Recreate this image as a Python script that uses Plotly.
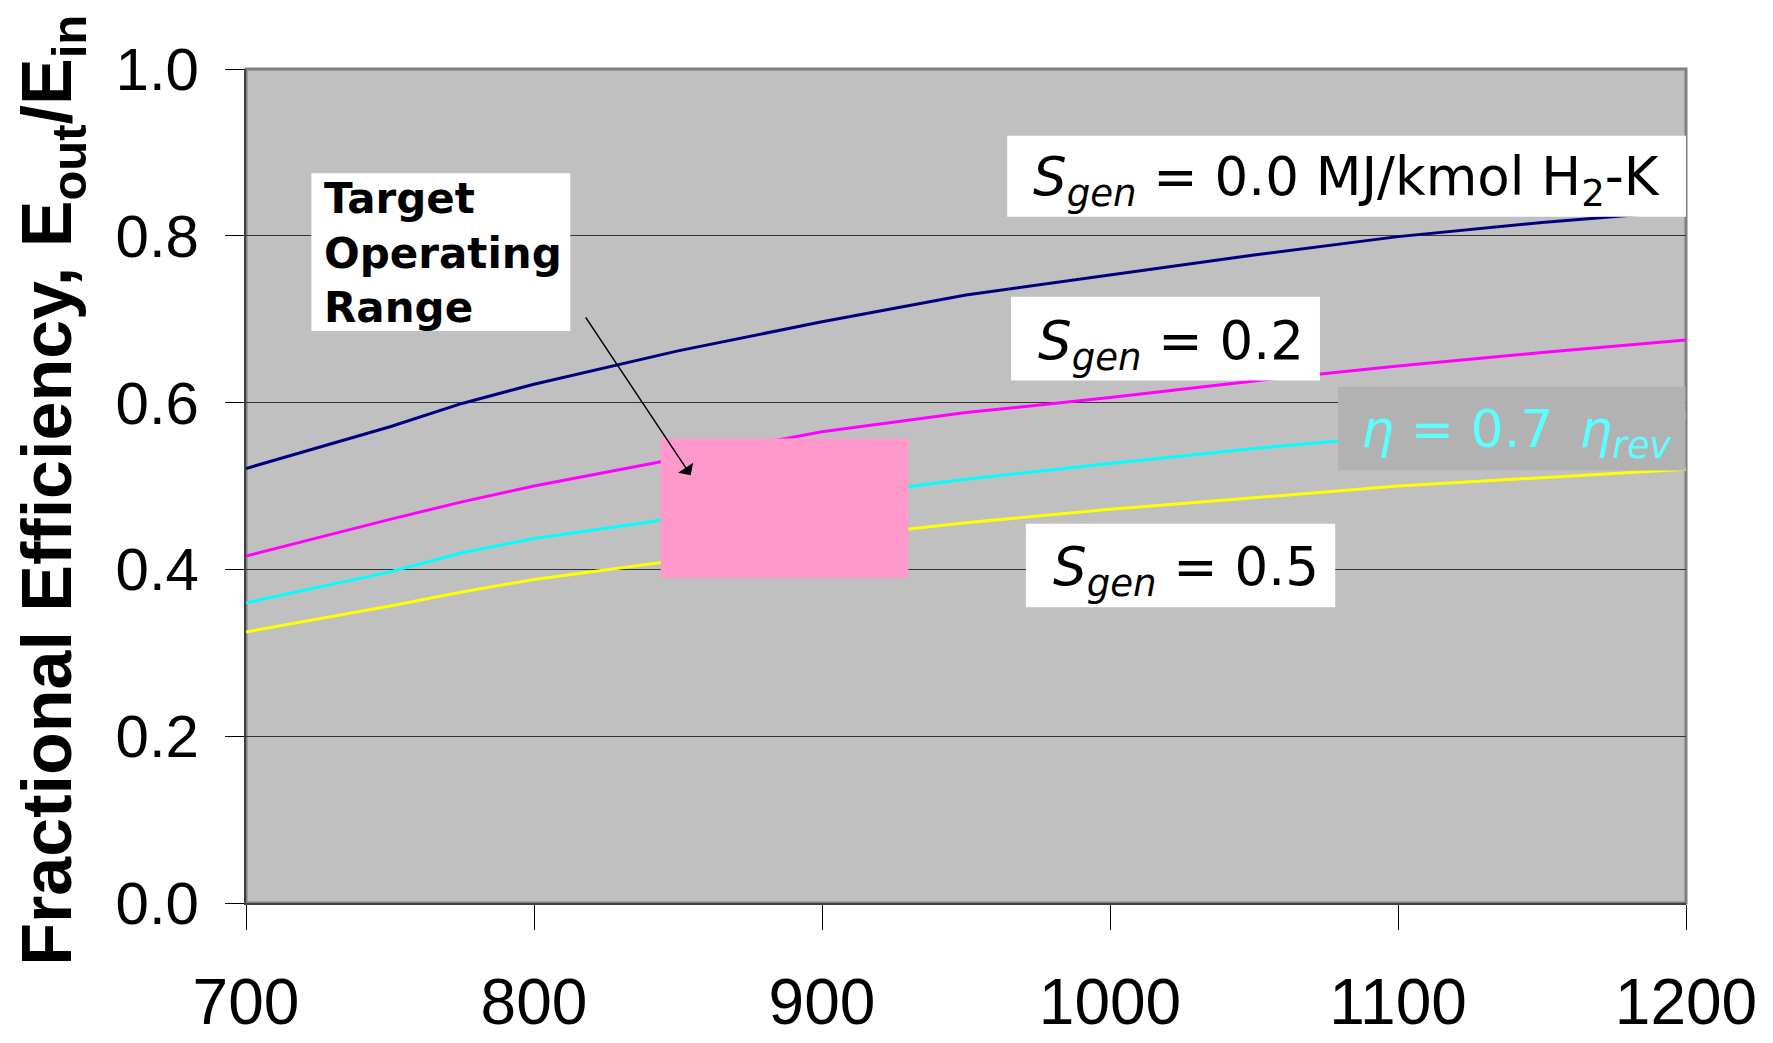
import plotly.graph_objects as go

# Operating temperature (x) and fractional efficiency curves
temperature = [700, 750, 775, 800, 850, 900, 950, 1000, 1050, 1100, 1150, 1200]
eff_sgen_00 = [0.521, 0.571, 0.599, 0.622, 0.662, 0.697, 0.729, 0.753, 0.777, 0.799, 0.816, 0.830]
eff_sgen_02 = [0.416, 0.460, 0.481, 0.500, 0.533, 0.565, 0.588, 0.606, 0.626, 0.644, 0.660, 0.675]
eff_eta_07 = [0.360, 0.397, 0.420, 0.437, 0.462, 0.486, 0.508, 0.527, 0.545, 0.560, 0.573, 0.584]
eff_sgen_05 = [0.325, 0.356, 0.373, 0.388, 0.411, 0.437, 0.456, 0.472, 0.486, 0.500, 0.510, 0.520]

x_ticks = [700, 800, 900, 1000, 1100, 1200]
y_ticks = [0.0, 0.2, 0.4, 0.6, 0.8, 1.0]
y_tick_text = ["0.0", "0.2", "0.4", "0.6", "0.8", "1.0"]

# Target operating range (temperature span, efficiency span)
target_x = [844, 930]
target_y = [0.390, 0.557]

series = [
    (eff_sgen_00, "#000080"),
    (eff_sgen_02, "#ff00ff"),
    (eff_eta_07, "#00ffff"),
    (eff_sgen_05, "#ffff00"),
]

fig = go.Figure()
for vals, color in series:
    fig.add_trace(go.Scatter(x=temperature, y=vals, mode="lines",
                             line=dict(color=color, width=3),
                             showlegend=False, hoverinfo="skip"))

shapes = [
    # plot-area frame
    dict(type="rect", xref="paper", yref="paper", x0=0, x1=1, y0=0, y1=1,
         line=dict(color="#808080", width=3), layer="below"),
    # target operating range
    dict(type="rect", xref="x", yref="y", x0=target_x[0], x1=target_x[1],
         y0=target_y[0], y1=target_y[1], fillcolor="#ff99cc",
         line=dict(width=0), layer="above"),
    # label backgrounds
    dict(type="rect", xref="x", yref="y", x0=722.7, x1=812.6, y0=0.686, y1=0.875,
         fillcolor="white", line=dict(width=0), layer="above"),
    dict(type="rect", xref="x", yref="y", x0=964.3, x1=1215, y0=0.8227, y1=0.920,
         fillcolor="white", line=dict(width=0), layer="above"),
    dict(type="rect", xref="x", yref="y", x0=965.6, x1=1072.9, y0=0.6265, y1=0.7268,
         fillcolor="white", line=dict(width=0), layer="above"),
    dict(type="rect", xref="x", yref="y", x0=1079.2, x1=1199.8, y0=0.5186, y1=0.619,
         fillcolor="#b2b2b2", line=dict(width=0), layer="above"),
    dict(type="rect", xref="x", yref="y", x0=970.8, x1=1078.2, y0=0.3545, y1=0.4548,
         fillcolor="white", line=dict(width=0), layer="above"),
]

label_font = dict(family="DejaVu Sans, Verdana, sans-serif", size=53, color="black")
annotations = [
    dict(x=972.5, y=0.866, xref="x", yref="y", xanchor="left", yanchor="middle",
         text="<i>S<sub>gen</sub></i> = 0.0 MJ/kmol H<sub>2</sub>-K",
         showarrow=False, font=label_font),
    dict(x=974.2, y=0.670, xref="x", yref="y", xanchor="left", yanchor="middle",
         text="<i>S<sub>gen</sub></i> = 0.2", showarrow=False, font=label_font),
    dict(x=1086.5, y=0.563, xref="x", yref="y", xanchor="left", yanchor="middle",
         text="<i>η</i> = 0.7\u2002<i>η<sub>rev</sub></i>", showarrow=False,
         font=dict(family="DejaVu Sans, Verdana, sans-serif", size=52, color="#5cffff")),
    dict(x=979.4, y=0.399, xref="x", yref="y", xanchor="left", yanchor="middle",
         text="<i>S<sub>gen</sub></i> = 0.5", showarrow=False, font=label_font),
    dict(x=726.3, y=0.779, xref="x", yref="y", xanchor="left", yanchor="middle",
         align="left", text="<b>Target<br>Operating<br>Range</b>", showarrow=False,
         font=dict(family="DejaVu Sans, Verdana, sans-serif", size=42, color="black")),
    # arrow to the target range
    dict(x=854.4, y=0.513, xref="x", yref="y", ax=817.6, ay=0.704, axref="x", ayref="y",
         text="", showarrow=True, arrowhead=1, arrowsize=2, arrowwidth=1.5,
         arrowcolor="black"),
    # y-axis title
    dict(x=-0.1348, y=0.4955, xref="paper", yref="paper", xanchor="center", yanchor="middle",
         textangle=-90, showarrow=False,
         text="<b>Fractional Efficiency, E<sub>out</sub>/E<sub>in</sub></b>",
         font=dict(family="Arial, Liberation Sans, sans-serif", size=70, color="black")),
]

tick_font_family = "Arial, Liberation Sans, sans-serif"

fig.update_layout(
    width=1773, height=1043,
    margin=dict(l=246, r=87, t=69, b=140),
    paper_bgcolor="white", plot_bgcolor="#c0c0c0",
    shapes=shapes, annotations=annotations,
    xaxis=dict(range=[700, 1200], tickvals=x_ticks, ticktext=[str(v) for v in x_ticks],
               showgrid=False, zeroline=False, showline=True, linecolor="#404040", linewidth=2,
               ticks="outside", ticklen=25, tickwidth=1, tickcolor="black",
               ticklabelstandoff=17, automargin=False,
               tickfont=dict(family=tick_font_family, size=64, color="black")),
    yaxis=dict(range=[0, 1], tickvals=y_ticks, ticktext=y_tick_text,
               showgrid=True, gridcolor="#333333", gridwidth=1, zeroline=False,
               showline=True, linecolor="#404040", linewidth=2,
               ticks="outside", ticklen=19, tickwidth=1, tickcolor="black",
               ticklabelstandoff=14, automargin=False,
               tickfont=dict(family=tick_font_family, size=60, color="black")),
)

fig.write_html("out.html")
